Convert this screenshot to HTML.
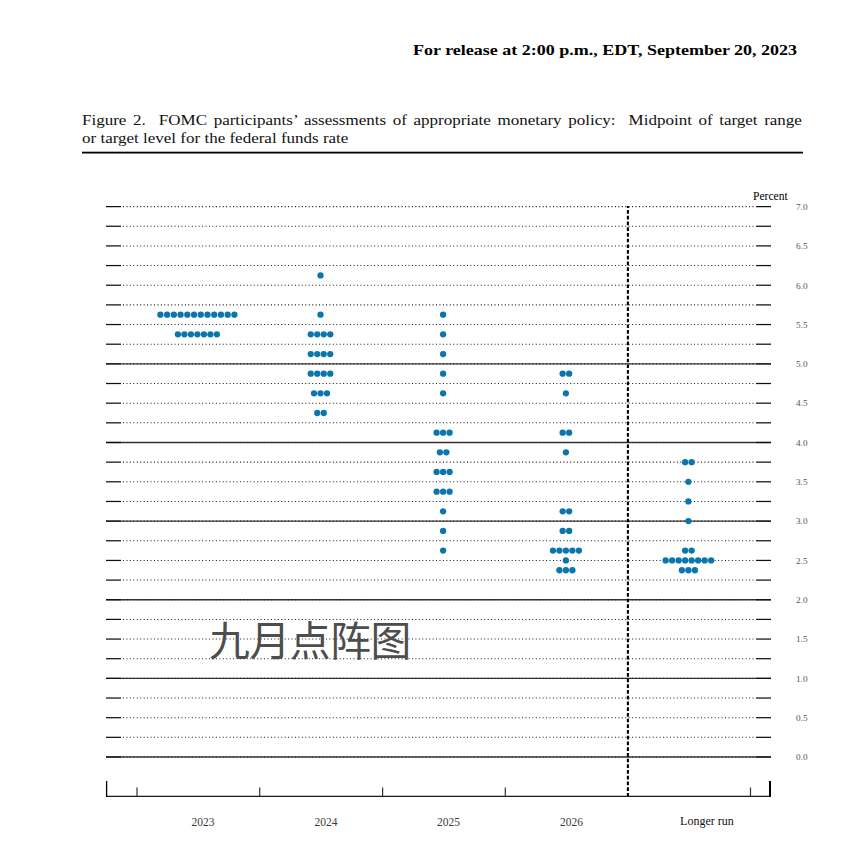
<!DOCTYPE html>
<html><head><meta charset="utf-8"><style>
html,body{margin:0;padding:0;background:#fff;}
body{width:854px;height:847px;position:relative;overflow:hidden;}
.hdr{position:absolute;left:413px;top:40px;font-family:"Liberation Serif",serif;font-weight:bold;font-size:15px;color:#000;white-space:nowrap;transform:scaleX(1.2);transform-origin:0 0;line-height:20px;}
.cap{position:absolute;left:82px;font-family:"Liberation Serif",serif;font-size:14.5px;color:#111;white-space:nowrap;transform:scaleX(1.1725);transform-origin:0 0;line-height:18px;}
.cap1{top:111px;width:614px;text-align:justify;text-align-last:justify;white-space:normal;}
.cap2{top:129px;}
svg{position:absolute;left:0;top:0;}
.s{stroke:#3a3a3a;stroke-width:1.3;}
.t{stroke:#111;stroke-width:1.25;}
.d{stroke:#1a1a1a;stroke-width:1.05;stroke-dasharray:1 2.44;}
.tk{stroke:#333;stroke-width:1.2;}
.yl{font-family:"Liberation Serif",serif;font-size:9.2px;fill:#555;}
.xl{font-family:"Liberation Serif",serif;font-size:11.5px;fill:#3a3a3a;text-anchor:middle;}
.wm{position:absolute;left:209px;top:618px;font-family:"Liberation Sans","Noto Sans CJK SC",sans-serif;font-size:40.8px;letter-spacing:-0.4px;color:#4d4d4d;white-space:nowrap;line-height:1.2;}
</style></head><body>
<div class="hdr">For release at 2:00 p.m., EDT, September 20, 2023</div>
<div class="cap cap1">Figure 2.&nbsp; FOMC participants’ assessments of appropriate monetary policy:&nbsp; Midpoint of target range</div>
<div class="cap cap2">or target level for the federal funds rate</div>
<svg width="854" height="847" viewBox="0 0 854 847">
<rect x="82" y="151.7" width="721" height="1.8" fill="#000"/>
<g><line x1="106" x2="771" y1="757.00" y2="757.00" class="s"/><line x1="106" x2="121" y1="757.00" y2="757.00" class="t"/><line x1="756" x2="771" y1="757.00" y2="757.00" class="t"/><line x1="123" x2="754.6" y1="757.00" y2="757.00" class="d"/><text x="796" y="760.30" class="yl">0.0</text><line x1="106" x2="121" y1="737.34" y2="737.34" class="t"/><line x1="756" x2="771" y1="737.34" y2="737.34" class="t"/><line x1="123" x2="754.6" y1="737.34" y2="737.34" class="d"/><line x1="106" x2="121" y1="717.69" y2="717.69" class="t"/><line x1="756" x2="771" y1="717.69" y2="717.69" class="t"/><line x1="123" x2="754.6" y1="717.69" y2="717.69" class="d"/><text x="796" y="720.99" class="yl">0.5</text><line x1="106" x2="121" y1="698.03" y2="698.03" class="t"/><line x1="756" x2="771" y1="698.03" y2="698.03" class="t"/><line x1="123" x2="754.6" y1="698.03" y2="698.03" class="d"/><line x1="106" x2="771" y1="678.37" y2="678.37" class="s"/><line x1="106" x2="121" y1="678.37" y2="678.37" class="t"/><line x1="756" x2="771" y1="678.37" y2="678.37" class="t"/><line x1="123" x2="754.6" y1="678.37" y2="678.37" class="d"/><text x="796" y="681.67" class="yl">1.0</text><line x1="106" x2="121" y1="658.71" y2="658.71" class="t"/><line x1="756" x2="771" y1="658.71" y2="658.71" class="t"/><line x1="123" x2="754.6" y1="658.71" y2="658.71" class="d"/><line x1="106" x2="121" y1="639.06" y2="639.06" class="t"/><line x1="756" x2="771" y1="639.06" y2="639.06" class="t"/><line x1="123" x2="754.6" y1="639.06" y2="639.06" class="d"/><text x="796" y="642.36" class="yl">1.5</text><line x1="106" x2="121" y1="619.40" y2="619.40" class="t"/><line x1="756" x2="771" y1="619.40" y2="619.40" class="t"/><line x1="123" x2="754.6" y1="619.40" y2="619.40" class="d"/><line x1="106" x2="771" y1="599.74" y2="599.74" class="s"/><line x1="106" x2="121" y1="599.74" y2="599.74" class="t"/><line x1="756" x2="771" y1="599.74" y2="599.74" class="t"/><line x1="123" x2="754.6" y1="599.74" y2="599.74" class="d"/><text x="796" y="603.04" class="yl">2.0</text><line x1="106" x2="121" y1="580.09" y2="580.09" class="t"/><line x1="756" x2="771" y1="580.09" y2="580.09" class="t"/><line x1="123" x2="754.6" y1="580.09" y2="580.09" class="d"/><line x1="106" x2="121" y1="560.43" y2="560.43" class="t"/><line x1="756" x2="771" y1="560.43" y2="560.43" class="t"/><line x1="123" x2="754.6" y1="560.43" y2="560.43" class="d"/><text x="796" y="563.73" class="yl">2.5</text><line x1="106" x2="121" y1="540.77" y2="540.77" class="t"/><line x1="756" x2="771" y1="540.77" y2="540.77" class="t"/><line x1="123" x2="754.6" y1="540.77" y2="540.77" class="d"/><line x1="106" x2="771" y1="521.11" y2="521.11" class="s"/><line x1="106" x2="121" y1="521.11" y2="521.11" class="t"/><line x1="756" x2="771" y1="521.11" y2="521.11" class="t"/><line x1="123" x2="754.6" y1="521.11" y2="521.11" class="d"/><text x="796" y="524.41" class="yl">3.0</text><line x1="106" x2="121" y1="501.46" y2="501.46" class="t"/><line x1="756" x2="771" y1="501.46" y2="501.46" class="t"/><line x1="123" x2="754.6" y1="501.46" y2="501.46" class="d"/><line x1="106" x2="121" y1="481.80" y2="481.80" class="t"/><line x1="756" x2="771" y1="481.80" y2="481.80" class="t"/><line x1="123" x2="754.6" y1="481.80" y2="481.80" class="d"/><text x="796" y="485.10" class="yl">3.5</text><line x1="106" x2="121" y1="462.14" y2="462.14" class="t"/><line x1="756" x2="771" y1="462.14" y2="462.14" class="t"/><line x1="123" x2="754.6" y1="462.14" y2="462.14" class="d"/><line x1="106" x2="771" y1="442.49" y2="442.49" class="s"/><line x1="106" x2="121" y1="442.49" y2="442.49" class="t"/><line x1="756" x2="771" y1="442.49" y2="442.49" class="t"/><line x1="123" x2="754.6" y1="442.49" y2="442.49" class="d"/><text x="796" y="445.79" class="yl">4.0</text><line x1="106" x2="121" y1="422.83" y2="422.83" class="t"/><line x1="756" x2="771" y1="422.83" y2="422.83" class="t"/><line x1="123" x2="754.6" y1="422.83" y2="422.83" class="d"/><line x1="106" x2="121" y1="403.17" y2="403.17" class="t"/><line x1="756" x2="771" y1="403.17" y2="403.17" class="t"/><line x1="123" x2="754.6" y1="403.17" y2="403.17" class="d"/><text x="796" y="406.47" class="yl">4.5</text><line x1="106" x2="121" y1="383.51" y2="383.51" class="t"/><line x1="756" x2="771" y1="383.51" y2="383.51" class="t"/><line x1="123" x2="754.6" y1="383.51" y2="383.51" class="d"/><line x1="106" x2="771" y1="363.86" y2="363.86" class="s"/><line x1="106" x2="121" y1="363.86" y2="363.86" class="t"/><line x1="756" x2="771" y1="363.86" y2="363.86" class="t"/><line x1="123" x2="754.6" y1="363.86" y2="363.86" class="d"/><text x="796" y="367.16" class="yl">5.0</text><line x1="106" x2="121" y1="344.20" y2="344.20" class="t"/><line x1="756" x2="771" y1="344.20" y2="344.20" class="t"/><line x1="123" x2="754.6" y1="344.20" y2="344.20" class="d"/><line x1="106" x2="121" y1="324.54" y2="324.54" class="t"/><line x1="756" x2="771" y1="324.54" y2="324.54" class="t"/><line x1="123" x2="754.6" y1="324.54" y2="324.54" class="d"/><text x="796" y="327.84" class="yl">5.5</text><line x1="106" x2="121" y1="304.89" y2="304.89" class="t"/><line x1="756" x2="771" y1="304.89" y2="304.89" class="t"/><line x1="123" x2="754.6" y1="304.89" y2="304.89" class="d"/><line x1="106" x2="121" y1="285.23" y2="285.23" class="t"/><line x1="756" x2="771" y1="285.23" y2="285.23" class="t"/><line x1="123" x2="754.6" y1="285.23" y2="285.23" class="d"/><text x="796" y="288.53" class="yl">6.0</text><line x1="106" x2="121" y1="265.57" y2="265.57" class="t"/><line x1="756" x2="771" y1="265.57" y2="265.57" class="t"/><line x1="123" x2="754.6" y1="265.57" y2="265.57" class="d"/><line x1="106" x2="121" y1="245.91" y2="245.91" class="t"/><line x1="756" x2="771" y1="245.91" y2="245.91" class="t"/><line x1="123" x2="754.6" y1="245.91" y2="245.91" class="d"/><text x="796" y="249.21" class="yl">6.5</text><line x1="106" x2="121" y1="226.26" y2="226.26" class="t"/><line x1="756" x2="771" y1="226.26" y2="226.26" class="t"/><line x1="123" x2="754.6" y1="226.26" y2="226.26" class="d"/><line x1="106" x2="121" y1="206.60" y2="206.60" class="t"/><line x1="756" x2="771" y1="206.60" y2="206.60" class="t"/><line x1="123" x2="754.6" y1="206.60" y2="206.60" class="d"/><text x="796" y="209.90" class="yl">7.0</text></g>
<text x="753" y="199.6" style="font-family:'Liberation Serif',serif;font-size:11.6px;fill:#000">Percent</text>
<line x1="627.9" x2="627.9" y1="206.1" y2="796.4" stroke="#000" stroke-width="2.1" stroke-dasharray="3.7 2.014" stroke-dashoffset="1.71"/>
<line x1="106" x2="771" y1="796.4" y2="796.4" stroke="#1a1a1a" stroke-width="1.2"/>
<line x1="106.6" x2="106.6" y1="781" y2="796.8" stroke="#000" stroke-width="1.3"/>
<line x1="770" x2="770" y1="781" y2="796.8" stroke="#000" stroke-width="2"/>
<g><line x1="137" x2="137" y1="787.5" y2="796.2" class="tk"/><line x1="259.7" x2="259.7" y1="787.5" y2="796.2" class="tk"/><line x1="382.6" x2="382.6" y1="787.5" y2="796.2" class="tk"/><line x1="505.3" x2="505.3" y1="787.5" y2="796.2" class="tk"/><line x1="750.5" x2="750.5" y1="787.5" y2="796.2" class="tk"/></g>
<g fill="#0a76ad"><circle cx="160.38" cy="314.71" r="3.15"/><circle cx="167.11" cy="314.71" r="3.15"/><circle cx="173.84" cy="314.71" r="3.15"/><circle cx="180.57" cy="314.71" r="3.15"/><circle cx="187.31" cy="314.71" r="3.15"/><circle cx="194.03" cy="314.71" r="3.15"/><circle cx="200.76" cy="314.71" r="3.15"/><circle cx="207.50" cy="314.71" r="3.15"/><circle cx="214.22" cy="314.71" r="3.15"/><circle cx="220.95" cy="314.71" r="3.15"/><circle cx="227.69" cy="314.71" r="3.15"/><circle cx="234.41" cy="314.71" r="3.15"/><circle cx="177.90" cy="334.37" r="3.15"/><circle cx="184.40" cy="334.37" r="3.15"/><circle cx="190.90" cy="334.37" r="3.15"/><circle cx="197.40" cy="334.37" r="3.15"/><circle cx="203.90" cy="334.37" r="3.15"/><circle cx="210.40" cy="334.37" r="3.15"/><circle cx="216.90" cy="334.37" r="3.15"/><circle cx="320.50" cy="275.40" r="3.15"/><circle cx="320.50" cy="314.71" r="3.15"/><circle cx="310.75" cy="334.37" r="3.15"/><circle cx="317.25" cy="334.37" r="3.15"/><circle cx="323.75" cy="334.37" r="3.15"/><circle cx="330.25" cy="334.37" r="3.15"/><circle cx="310.75" cy="354.03" r="3.15"/><circle cx="317.25" cy="354.03" r="3.15"/><circle cx="323.75" cy="354.03" r="3.15"/><circle cx="330.25" cy="354.03" r="3.15"/><circle cx="310.75" cy="373.69" r="3.15"/><circle cx="317.25" cy="373.69" r="3.15"/><circle cx="323.75" cy="373.69" r="3.15"/><circle cx="330.25" cy="373.69" r="3.15"/><circle cx="314.00" cy="393.34" r="3.15"/><circle cx="320.50" cy="393.34" r="3.15"/><circle cx="327.00" cy="393.34" r="3.15"/><circle cx="317.25" cy="413.00" r="3.15"/><circle cx="323.75" cy="413.00" r="3.15"/><circle cx="443.10" cy="314.71" r="3.15"/><circle cx="443.10" cy="334.37" r="3.15"/><circle cx="443.10" cy="354.03" r="3.15"/><circle cx="443.10" cy="373.69" r="3.15"/><circle cx="443.10" cy="393.34" r="3.15"/><circle cx="436.60" cy="432.66" r="3.15"/><circle cx="443.10" cy="432.66" r="3.15"/><circle cx="449.60" cy="432.66" r="3.15"/><circle cx="439.85" cy="452.31" r="3.15"/><circle cx="446.35" cy="452.31" r="3.15"/><circle cx="436.60" cy="471.97" r="3.15"/><circle cx="443.10" cy="471.97" r="3.15"/><circle cx="449.60" cy="471.97" r="3.15"/><circle cx="436.60" cy="491.63" r="3.15"/><circle cx="443.10" cy="491.63" r="3.15"/><circle cx="449.60" cy="491.63" r="3.15"/><circle cx="443.10" cy="511.29" r="3.15"/><circle cx="443.10" cy="530.94" r="3.15"/><circle cx="443.10" cy="550.60" r="3.15"/><circle cx="562.65" cy="373.69" r="3.15"/><circle cx="569.15" cy="373.69" r="3.15"/><circle cx="565.90" cy="393.34" r="3.15"/><circle cx="562.65" cy="432.66" r="3.15"/><circle cx="569.15" cy="432.66" r="3.15"/><circle cx="565.90" cy="452.31" r="3.15"/><circle cx="562.65" cy="511.29" r="3.15"/><circle cx="569.15" cy="511.29" r="3.15"/><circle cx="562.65" cy="530.94" r="3.15"/><circle cx="569.15" cy="530.94" r="3.15"/><circle cx="552.90" cy="550.60" r="3.15"/><circle cx="559.40" cy="550.60" r="3.15"/><circle cx="565.90" cy="550.60" r="3.15"/><circle cx="572.40" cy="550.60" r="3.15"/><circle cx="578.90" cy="550.60" r="3.15"/><circle cx="565.90" cy="560.43" r="3.15"/><circle cx="559.40" cy="570.26" r="3.15"/><circle cx="565.90" cy="570.26" r="3.15"/><circle cx="572.40" cy="570.26" r="3.15"/><circle cx="685.15" cy="462.14" r="3.15"/><circle cx="691.65" cy="462.14" r="3.15"/><circle cx="688.40" cy="481.80" r="3.15"/><circle cx="688.40" cy="501.46" r="3.15"/><circle cx="688.40" cy="521.11" r="3.15"/><circle cx="685.15" cy="550.60" r="3.15"/><circle cx="691.65" cy="550.60" r="3.15"/><circle cx="665.65" cy="560.43" r="3.15"/><circle cx="672.15" cy="560.43" r="3.15"/><circle cx="678.65" cy="560.43" r="3.15"/><circle cx="685.15" cy="560.43" r="3.15"/><circle cx="691.65" cy="560.43" r="3.15"/><circle cx="698.15" cy="560.43" r="3.15"/><circle cx="704.65" cy="560.43" r="3.15"/><circle cx="711.15" cy="560.43" r="3.15"/><circle cx="681.90" cy="570.26" r="3.15"/><circle cx="688.40" cy="570.26" r="3.15"/><circle cx="694.90" cy="570.26" r="3.15"/></g>
<text x="203.1" y="826" class="xl">2023</text>
<text x="325.9" y="826" class="xl">2024</text>
<text x="448.6" y="826" class="xl">2025</text>
<text x="571.4" y="826" class="xl">2026</text>
<text x="706.9" y="825" class="xl" style="font-size:12px;fill:#111">Longer run</text>
</svg>
<div class="wm">九月点阵图</div>
</body></html>
